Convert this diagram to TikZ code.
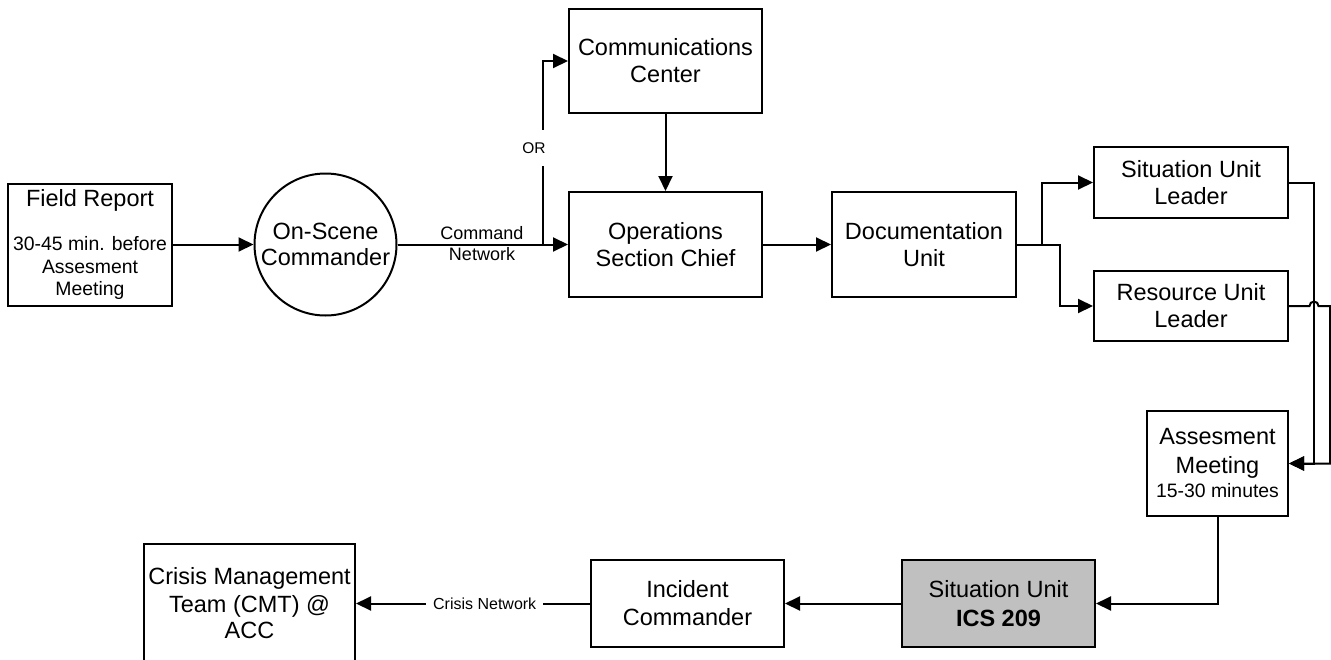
\documentclass[tikz,border=0pt]{standalone}
\usepackage{fontspec}
\setmainfont{Liberation Sans}
\usetikzlibrary{arrows.meta}
\newcommand\smallsz{\fontsize{19.4}{23}\selectfont}
\begin{document}
\begin{tikzpicture}[x=1pt,y=-1pt,
  box/.style={draw, line width=2pt, fill=white, inner sep=0pt, align=center,
    font=\fontsize{23.5}{27}\selectfont},
  link/.style={line width=2pt, -{Triangle[length=15pt,width=14pt]}},
  wire/.style={line width=2pt},
  tag/.style={inner sep=2pt, align=center},
]
\useasboundingbox (0,0) rectangle (1331,659);

% boxes
\node[box, minimum width=164pt, minimum height=122pt] (field) at (90,244.5)
  {Field Report\\[17pt]\smallsz 30-45 min. before\\[-4pt]\smallsz Assesment\\[-5pt]\smallsz Meeting};
\node[box, circle, minimum size=142pt] (osc) at (325.5,244.5) {On-Scene\\[-1pt]Commander};
\node[box, minimum width=193pt, minimum height=104pt] (comm) at (665.5,61) {Communications\\Center};
\node[box, minimum width=193pt, minimum height=105pt] (ops) at (665.5,244.5) {Operations\\Section Chief};
\node[box, minimum width=184pt, minimum height=105pt] (doc) at (924,244.5) {Documentation\\Unit};
\node[box, minimum width=194pt, minimum height=71pt] (sul) at (1191,182.5) {Situation Unit\\Leader};
\node[box, minimum width=194pt, minimum height=70pt] (rul) at (1191,306) {Resource Unit\\Leader};
\node[box, minimum width=141pt, minimum height=105pt] (am) at (1217.5,463.5)
  {Assesment\\[2pt]Meeting\\[-3pt]\smallsz 15-30 minutes};
\node[box, fill={rgb,255:red,192;green,192;blue,192}, minimum width=193pt, minimum height=87pt] (su) at (998.5,603.5)
  {Situation Unit\\[2pt]\textbf{ICS 209}};
\node[box, minimum width=193pt, minimum height=87pt] (ic) at (687.5,603.5) {Incident\\[1pt]Commander};
\node[box, minimum width=211pt, minimum height=120pt] (cmt) at (249.5,603.5)
  {Crisis Management\\[1pt]Team (CMT) @\\[-1pt]ACC};

% connectors
\coordinate (cn) at (543,244.5);
\coordinate (split) at (1042,244.5);

\draw[link] (field.east) -- (osc.west);
\draw[link] (osc.east) -- (ops.west);
\draw[link] (cn) |- (comm.west);
\node[tag, fill=white, minimum height=36pt, font=\fontsize{15.5}{18}\selectfont] (orlbl) at (534,148) {OR};
\node[tag, font=\fontsize{18}{20.5}\selectfont] (cmdnet) at (482,243.5) {Command\\Network};
\draw[link] (comm.south) -- (ops.north);
\draw[link] (ops.east) -- (doc.west);
\draw[wire] (doc.east) -- (split);
\draw[link] (split) |- (sul.west);
\draw[link] (split) -- ++(18,0) |- (rul.west);
\draw[link] (sul.east) -- ++(25,0) |- (am.east);
\draw[link] (rul.east) -- ++(20.5,0) arc[start angle=180, end angle=0, radius=4.5pt]
  -- ++(11.5,0) |- (am.east);
\draw[link] (am.south) |- (su.east);
\draw[link] (su.west) -- (ic.east);
\draw[link] (ic.west) -- node[pos=0.45, tag, fill=white, inner xsep=7pt,
  font=\fontsize{16}{18}\selectfont] (crisisnet) {Crisis Network} (cmt.east);
\end{tikzpicture}
\end{document}
